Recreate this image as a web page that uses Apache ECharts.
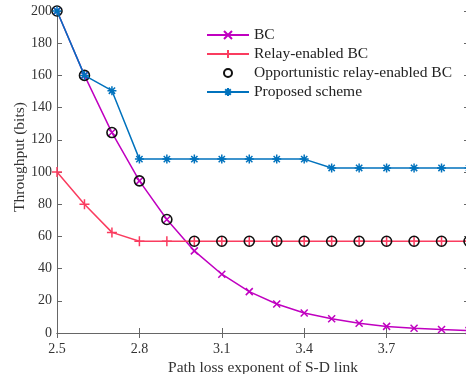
<!DOCTYPE html>
<html>
<head>
<meta charset="utf-8">
<script src="https://cdn.jsdelivr.net/npm/echarts@6/dist/echarts.min.js"></script>
<style>
  html, body { margin: 0; padding: 0; background: #fff; }
  #chart { width: 466px; height: 374px; }
</style>
</head>
<body>
<div id="chart"></div>
<script>
var exponents = ['2.5', '2.6', '2.7', '2.8', '2.9', '3.0', '3.1', '3.2', '3.3', '3.4', '3.5', '3.6', '3.7', '3.8', '3.9', '4.0'];
var bc = [200, 160, 124.5, 94.5, 70.5, 51, 36.5, 25.7, 18, 12.4, 8.8, 6, 4.1, 3, 2.2, 1.5];
var relayBc = [100, 80, 62.5, 57, 57, 57, 57, 57, 57, 57, 57, 57, 57, 57, 57, 57];
var oppRelayBc = [200, 160, 124.5, 94.5, 70.5, 57, 57, 57, 57, 57, 57, 57, 57, 57, 57, 57];
var proposed = [200, 160, 150.5, 108, 108, 108, 108, 108, 108, 108, 102.5, 102.5, 102.5, 102.5, 102.5, 102.5];

var font = 'Liberation Serif';
var axisColor = '#666';
var textColor = '#333';

function pairs(vals) {
    return vals.map(function (v, i) { return [parseFloat(exponents[i]), v]; });
}

// marker shapes, drawn as strokes
var crossPath = 'path://M0,0L10,10M10,0L0,10';
var plusPath = 'path://M5,0L5,10M0,5L10,5';
var starPath = 'path://M5,0L5,10M0,5L10,5M1.5,1.5L8.5,8.5M8.5,1.5L1.5,8.5';

var baseX = {
    type: 'value',
    min: 2.5,
    max: 4.0,
    interval: 0.3,
    axisLine: { lineStyle: { color: axisColor, width: 1 } },
    axisTick: { inside: true, length: 5, lineStyle: { color: axisColor } },
    splitLine: { show: false }
};
var baseY = {
    type: 'value',
    min: 0,
    max: 200,
    interval: 20,
    axisLine: { show: true, lineStyle: { color: axisColor, width: 1 } },
    axisTick: { show: true, inside: true, length: 5, lineStyle: { color: axisColor } },
    splitLine: { show: false }
};

var chart = echarts.init(document.getElementById('chart'));
var option = {
    backgroundColor: '#fff',
    animation: false,
    // plot runs slightly past the right edge, as in the cropped original
    grid: { left: 57, right: -3, top: 11, bottom: 41, outerBoundsMode: 'none', containLabel: false },
    legend: {
        left: 201,
        top: 22,
        orient: 'vertical',
        itemWidth: 42,
        itemHeight: 10,
        itemGap: 3,
        textStyle: { fontFamily: font, fontSize: 15.5, color: '#222', lineHeight: 14 },
        data: ['BC', 'Relay-enabled BC', 'Opportunistic relay-enabled BC', 'Proposed scheme']
    },
    xAxis: [
        Object.assign({}, baseX, {
            position: 'bottom',
            name: 'Path loss exponent of S-D link',
            nameLocation: 'middle',
            nameGap: 27,
            nameMoveOverlap: false,
            nameTextStyle: { fontFamily: font, fontSize: 15.5, color: textColor },
            axisLabel: {
                fontFamily: font, fontSize: 14, color: textColor, margin: 9,
                showMaxLabel: false,
                formatter: function (v) { return v.toFixed(1); }
            }
        }),
        Object.assign({}, baseX, {
            position: 'top',
            axisLabel: { show: false }
        })
    ],
    yAxis: [
        Object.assign({}, baseY, {
            position: 'left',
            name: 'Throughput (bits)',
            nameLocation: 'middle',
            nameGap: 29,
            nameMoveOverlap: false,
            nameTextStyle: { fontFamily: font, fontSize: 15.5, color: textColor, padding: [0, 0, 0, 30] },
            axisLabel: { fontFamily: font, fontSize: 14, color: textColor, margin: 5 }
        }),
        Object.assign({}, baseY, {
            position: 'right',
            axisLabel: { show: false }
        })
    ],
    series: [
        {
            name: 'BC',
            type: 'line',
            data: pairs(bc),
            symbol: crossPath,
            symbolSize: 7,
            lineStyle: { color: '#c000c0', width: 1.5 },
            itemStyle: { color: '#c000c0', borderColor: '#c000c0', borderWidth: 1.5 }
        },
        {
            name: 'Relay-enabled BC',
            type: 'line',
            data: pairs(relayBc),
            symbol: plusPath,
            symbolSize: 10,
            lineStyle: { color: '#fa3c5f', width: 1.5 },
            itemStyle: { color: '#fa3c5f', borderColor: '#fa3c5f', borderWidth: 1.5 }
        },
        {
            name: 'Opportunistic relay-enabled BC',
            type: 'line',
            data: pairs(oppRelayBc),
            symbol: 'circle',
            symbolSize: 10,
            showAllSymbol: true,
            lineStyle: { width: 0, opacity: 0 },
            itemStyle: { color: 'rgba(0,0,0,0)', borderColor: '#111', borderWidth: 1.6 },
            z: 3
        },
        {
            name: 'Proposed scheme',
            type: 'line',
            data: pairs(proposed),
            symbol: starPath,
            symbolSize: 9,
            lineStyle: { color: '#0072bd', width: 1.5 },
            itemStyle: { color: '#0072bd', borderColor: '#0072bd', borderWidth: 1.5 },
            z: 4
        }
    ]
};
chart.setOption(option);
</script>
</body>
</html>
